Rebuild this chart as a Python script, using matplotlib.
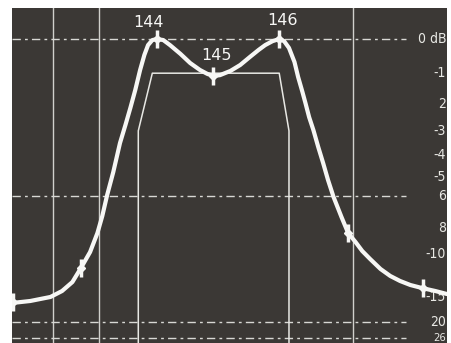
import numpy as np
import matplotlib.pyplot as plt
from matplotlib.transforms import blended_transform_factory

# response curve: frequency (MHz) and attenuation (dB)
freq_mhz = [141.62, 141.92, 142.25, 142.44, 142.61, 142.75, 142.90, 143.02,
            143.10, 143.18, 143.28, 143.39, 143.48, 143.56, 143.64, 143.72,
            143.79, 143.85, 143.92, 144.00, 144.10, 144.21, 144.38, 144.54,
            144.70, 144.82, 144.92, 145.03, 145.20, 145.36, 145.52, 145.66,
            145.77, 145.89, 146.00, 146.08, 146.16, 146.25, 146.31, 146.38,
            146.43, 146.49, 146.56, 146.64, 146.72, 146.80, 146.89, 147.02,
            147.13, 147.25, 147.36, 147.49, 147.66, 147.82, 147.98, 148.15,
            148.34, 148.56, 148.75]
atten_db = [15.90, 15.56, 14.92, 14.05, 12.88, 11.32, 9.83, 8.34,
            7.19, 5.95, 4.78, 3.49, 2.77, 2.15, 1.54, 0.90,
            0.45, 0.17, 0.03, 0.00, 0.03, 0.17, 0.42, 0.69,
            0.90, 1.02, 1.09, 1.06, 0.93, 0.75, 0.51, 0.31,
            0.17, 0.06, 0.00, 0.06, 0.25, 0.66, 1.12, 1.60,
            1.98, 2.48, 2.97, 3.66, 4.36, 5.17, 6.06, 7.25,
            8.34, 9.01, 9.74, 10.45, 11.42, 12.17, 12.75, 13.25,
            13.64, 14.05, 14.48]

# frequency markers on the trace
marker_mhz = [141.64, 142.75, 144.00, 144.92, 146.00, 147.13, 148.35]
marker_db = [15.8, 11.32, 0.0, 1.09, 0.0, 8.34, 13.64]
marker_labels = {144.00: ("144", -6, 6.5), 144.92: ("145", 2, 9.5),
                 146.00: ("146", 2, 8)}

# tolerance mask (trapezoid)
mask_mhz = [143.69, 143.69, 143.92, 146.00, 146.16, 146.16]
mask_db = [40, 3.0, 1.0, 1.0, 3.0, 40]

# graticule
vgrid_mhz = [142.30, 143.05, 147.21]
hgrid_db = [0, 6, 20, 26]
scale_db = [0, 1, 2, 3, 4, 5, 6, 8, 10, 15, 20, 26]
scale_text = ["0 dB", "-1", "2", "-3", "-4", "-5", "6", "8", "-10", "-15", "20", "26"]


def amp(db):
    # the screen scale is linear in voltage
    return 10 ** (-np.asarray(db, dtype=float) / 20)


bg = "#3b3835"
fg = "#f7f7f5"

fig = plt.figure(figsize=(4.52, 3.43), dpi=100)
fig.patch.set_facecolor("white")
ax = fig.add_axes([12 / 452, 0, 435 / 452, 335 / 343])
ax.set_facecolor(bg)
ax.set_xlim(141.62, 148.75)
ax.set_ylim(0.0331, 1.0986)
for s in ax.spines.values():
    s.set_visible(False)
ax.set_xticks([])
ax.set_yticks([])

for x in vgrid_mhz:
    ax.axvline(x, color="#d0d0cc", lw=1.0, zorder=1)

trans = blended_transform_factory(ax.transAxes, ax.transData)
for d in hgrid_db:
    ax.plot([0, 0.905], [amp(d), amp(d)], transform=trans, color="#d8d8d4",
            lw=1.0, dashes=(6, 3, 2, 3), zorder=1)

for d, t in zip(scale_db, scale_text):
    size = 8 if d == 26 else 10
    ax.text(0.998, amp(d), t, transform=trans, ha="right", va="center",
            color="#e8e8e4", fontsize=size, fontstretch="condensed",
            family=["DejaVu Sans"])

ax.plot(mask_mhz, amp(mask_db), color="#e8e8e4", lw=1.1, zorder=2)

ax.plot(freq_mhz, amp(atten_db), color=fg, lw=3, solid_capstyle="round",
        solid_joinstyle="round", zorder=3)
ax.plot(marker_mhz, amp(marker_db), ls="none", marker="|", ms=13, mew=2.5,
        color=fg, zorder=4)
ax.plot(marker_mhz, amp(marker_db), ls="none", marker="D", ms=4,
        color=fg, zorder=4)

for f, d in zip(marker_mhz, marker_db):
    if f in marker_labels:
        txt, dx, dy = marker_labels[f]
        ax.annotate(txt, (f, amp(d)), xytext=(dx, dy), textcoords="offset points",
                    ha="center", va="bottom", color=fg, fontsize=11.5)

fig.savefig("out.png", dpi=100, facecolor="white")
